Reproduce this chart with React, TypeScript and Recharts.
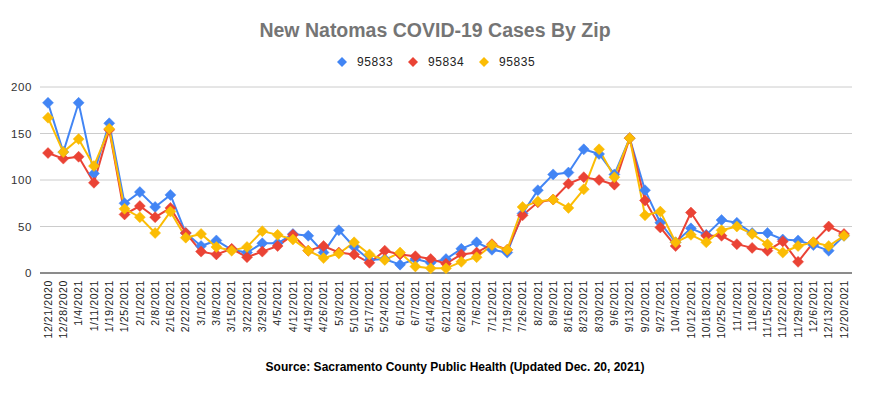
import React from "react";
import { LineChart, Line, XAxis, YAxis, CartesianGrid } from "recharts";

const dates = [
  "12/21/2020", "12/28/2020", "1/4/2021", "1/11/2021", "1/19/2021", "1/25/2021", "2/1/2021", "2/8/2021",
  "2/16/2021", "2/22/2021", "3/1/2021", "3/8/2021", "3/15/2021", "3/22/2021", "3/29/2021", "4/5/2021",
  "4/12/2021", "4/19/2021", "4/26/2021", "5/3/2021", "5/10/2021", "5/17/2021", "5/24/2021", "6/1/2021",
  "6/7/2021", "6/14/2021", "6/21/2021", "6/28/2021", "7/6/2021", "7/12/2021", "7/19/2021", "7/26/2021",
  "8/2/2021", "8/9/2021", "8/16/2021", "8/23/2021", "8/30/2021", "9/6/2021", "9/13/2021", "9/20/2021",
  "9/27/2021", "10/4/2021", "10/12/2021", "10/18/2021", "10/25/2021", "11/1/2021", "11/8/2021", "11/15/2021",
  "11/22/2021", "11/29/2021", "12/6/2021", "12/13/2021", "12/20/2021",
];

const zip95833 = [
  183, 130, 183, 107, 161, 75, 87, 71, 84, 43, 29, 35, 25, 22, 32, 32, 42, 40, 22, 46, 28, 14, 15, 9, 15, 11,
  15, 26, 33, 25, 22, 64, 89, 106, 108, 133, 128, 106, 145, 89, 54, 33, 48, 41, 57, 54, 43, 43, 36, 35, 30, 24, 40,
];
const zip95834 = [
  129, 123, 125, 97, 154, 63, 72, 60, 70, 43, 23, 20, 26, 17, 23, 29, 41, 24, 29, 22, 20, 11, 24, 20, 18, 15,
  10, 20, 22, 31, 25, 62, 76, 79, 96, 103, 100, 95, 145, 78, 49, 29, 65, 40, 40, 31, 27, 24, 34, 12, 33, 50, 42,
];
const zip95835 = [
  167, 130, 144, 115, 155, 69, 60, 43, 66, 38, 42, 28, 24, 28, 45, 41, 36, 24, 16, 21, 33, 20, 14, 22, 7, 5,
  5, 12, 17, 30, 25, 71, 77, 79, 70, 90, 133, 103, 145, 62, 66, 33, 41, 33, 46, 50, 42, 31, 22, 29, 33, 29, 40,
];

const yTicks = [0, 50, 100, 150, 200];

const series = [
  { key: "z95833", name: "95833", color: "#4285F4", values: zip95833 },
  { key: "z95834", name: "95834", color: "#EA4335", values: zip95834 },
  { key: "z95835", name: "95835", color: "#FBBC04", values: zip95835 },
];

const data = dates.map((d, i) => {
  const row: any = { date: d };
  series.forEach((s) => {
    row[s.key] = s.values[i];
  });
  return row;
});

const FONT = "'Liberation Sans', Arial, sans-serif";

const makeDiamond = (color: string) => (props: any) => {
  const { cx, cy, index } = props;
  if (cx == null || cy == null) return <g key={`d-${index}`} />;
  const r = 5.5;
  return (
    <polygon
      key={`d-${color}-${index}`}
      points={`${cx},${cy - r} ${cx + r},${cy} ${cx},${cy + r} ${cx - r},${cy}`}
      fill={color}
      stroke={color}
      strokeWidth={0.5}
    />
  );
};

const XTick = (props: any) => {
  const { x, payload } = props;
  const y = 280;
  return (
    <text
      x={x}
      y={y}
      transform={`rotate(-90, ${x}, ${y})`}
      textAnchor="end"
      dy="0.35em"
      fontSize={10.5}
      letterSpacing={0.6}
      fill="#222"
      fontFamily={FONT}
    >
      {payload.value}
    </text>
  );
};

export default function App() {
  return (
    <div style={{ position: "fixed", left: 0, top: 0, width: 873, height: 395, background: "#fff" }}>
      <LineChart
        width={873}
        height={395}
        data={data}
        margin={{ top: 87, right: 21, left: 0, bottom: 32 }}
      >
        <CartesianGrid horizontal vertical={false} stroke="#cccccc" />
        <XAxis
          dataKey="date"
          interval={0}
          height={90}
          padding={{ left: 8, right: 8 }}
          tick={<XTick />}
          tickLine={false}
          axisLine={{ stroke: "#333", strokeWidth: 1 }}
        />
        <YAxis
          width={40}
          domain={[0, 200]}
          ticks={yTicks}
          axisLine={false}
          tickLine={false}
          tick={{ fontSize: 11.5, fill: "#333", fontFamily: FONT, letterSpacing: 0.6 }}
        />
        {series.map((s) => (
          <Line
            key={s.key}
            dataKey={s.key}
            name={s.name}
            stroke={s.color}
            strokeWidth={2}
            dot={makeDiamond(s.color)}
            activeDot={false}
            isAnimationActive={false}
          />
        ))}
      </LineChart>
      <svg
        width={873}
        height={395}
        style={{ position: "absolute", left: 0, top: 0, pointerEvents: "none" }}
      >
        <text
          x={435}
          y={37}
          textAnchor="middle"
          fontSize={19.5}
          fontWeight="bold"
          fill="#757575"
          fontFamily={FONT}
        >
          New Natomas COVID-19 Cases By Zip
        </text>
        {series.map((s, i) => {
          const cx = 342 + i * 71;
          const cy = 62;
          const r = 5;
          return (
            <g key={`leg-${s.key}`}>
              <polygon
                points={`${cx},${cy - r} ${cx + r},${cy} ${cx},${cy + r} ${cx - r},${cy}`}
                fill={s.color}
              />
              <text
                x={cx + 15}
                y={cy}
                dy="0.35em"
                fontSize={12}
                letterSpacing={0.6}
                fill="#222"
                fontFamily={FONT}
              >
                {s.name}
              </text>
            </g>
          );
        })}
        <text
          x={455}
          y={371}
          textAnchor="middle"
          fontSize={12}
          fontWeight="bold"
          fill="#000"
          fontFamily={FONT}
        >
          Source: Sacramento County Public Health (Updated Dec. 20, 2021)
        </text>
      </svg>
    </div>
  );
}
